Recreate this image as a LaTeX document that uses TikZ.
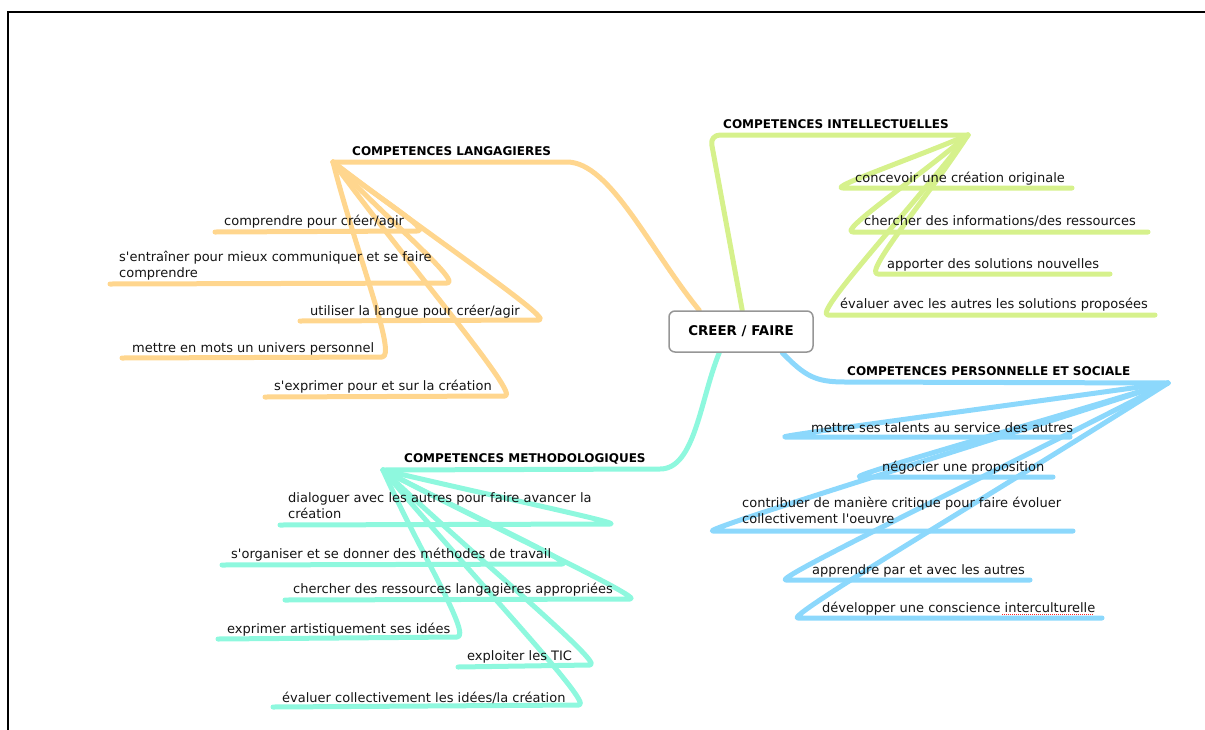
\documentclass[tikz,border=0pt]{standalone}
\usepackage{fontspec}
\setmainfont{DejaVu Sans}
\usetikzlibrary{calc,backgrounds}
\definecolor{orangeC}{RGB}{255,214,142}
\definecolor{greenC}{RGB}{214,241,140}
\definecolor{blueC}{RGB}{140,216,252}
\definecolor{tealC}{RGB}{142,248,222}
\definecolor{txt}{RGB}{20,20,20}
\definecolor{boxC}{RGB}{150,150,150}
\newcommand{\q}{\textquotesingle}
\tikzset{
  branch/.style={line width=5pt, line cap=round, line join=round},
  ob/.style={branch, draw=orangeC},
  gb/.style={branch, draw=greenC},
  bb/.style={branch, draw=blueC},
  tb/.style={branch, draw=tealC},
  leaf/.style={anchor=base west, inner sep=0pt, text=txt, font=\fontsize{13}{16}\selectfont},
  topic/.style={anchor=base west, inner sep=0pt, text=black, font=\bfseries\fontsize{12}{14}\selectfont},
  rootbox/.style={draw=boxC, line width=1.5pt, rounded corners=6pt, fill=white,
    minimum width=144pt, minimum height=41pt, inner sep=0pt, text=black,
    font=\bfseries\fontsize{13.4}{16}\selectfont}
}
% right hook: from apex #1 to right end #2, then along underline to #3
\newcommand{\hookR}[4]{\draw[#1] (#2) .. controls ($(#2)!0.45!(#3)$) and ($(#3)+(16,0)$) .. (#3) -- (#4);}
\newcommand{\hookL}[4]{\draw[#1] (#2) .. controls ($(#2)!0.45!(#3)$) and ($(#3)+(-16,0)$) .. (#3) -- (#4);}
\begin{document}
\begin{tikzpicture}[x=1pt,y=-1pt]
\useasboundingbox (0,0) rectangle (1205,729);
\draw[line width=2pt, line join=miter] (1206,12) -- (8,12) -- (8,730);

% root
\node[rootbox] (c) at (741,331.5) {CREER / FAIRE};

% ---------- coordinates ----------
% orange
\coordinate (oP) at (333,162);
\coordinate (oE) at (567,162);
\coordinate (o1R) at (417,231); \coordinate (o1L) at (215,232);
\coordinate (o2R) at (447,283); \coordinate (o2L) at (110,284);
\coordinate (o3R) at (539,320); \coordinate (o3L) at (300,321);
\coordinate (o4R) at (382,357); \coordinate (o4L) at (122,358);
\coordinate (o5R) at (505,396); \coordinate (o5L) at (265,397);
% green
\coordinate (gC) at (710,135);
\coordinate (gP) at (968,135);
\coordinate (g1L) at (843,188); \coordinate (g1R) at (1072,188);
\coordinate (g2L) at (853,232); \coordinate (g2R) at (1148,232);
\coordinate (g3L) at (878,274); \coordinate (g3R) at (1110,274);
\coordinate (g4L) at (828,315); \coordinate (g4R) at (1155,315);
% blue
\coordinate (bS) at (845,382);
\coordinate (bP) at (1168,383);
\coordinate (b1L) at (785,437); \coordinate (b1R) at (1070,437);
\coordinate (b2L) at (860,477); \coordinate (b2R) at (1053,477);
\coordinate (b3L) at (713,531); \coordinate (b3R) at (1073,531);
\coordinate (b4L) at (786,580); \coordinate (b4R) at (1030,580);
\coordinate (b5L) at (798,618); \coordinate (b5R) at (1102,618);
% teal
\coordinate (tS) at (660,469);
\coordinate (tP) at (383,470);
\coordinate (t1R) at (610,524); \coordinate (t1L) at (280,525);
\coordinate (t2R) at (562,564); \coordinate (t2L) at (222,565);
\coordinate (t3R) at (630,599); \coordinate (t3L) at (285,600);
\coordinate (t4R) at (457,637); \coordinate (t4L) at (218,639);
\coordinate (t5R) at (590,665); \coordinate (t5L) at (458,667);
\coordinate (t6R) at (579,705); \coordinate (t6L) at (273,707);

\begin{pgfonlayer}{background}
% orange branch
\draw[ob] (oP) -- (oE) .. controls (610,162) and (650,250) .. ($(c.north west)+(31,0)$);
\hookR{ob}{oP}{o1R}{o1L}
\hookR{ob}{oP}{o2R}{o2L}
\hookR{ob}{oP}{o3R}{o3L}
\hookR{ob}{oP}{o4R}{o4L}
\hookR{ob}{oP}{o5R}{o5L}
% green branch
\draw[gb, rounded corners=10pt] ($(c.north west)+(74,0)$) -- (gC) -- (gP);
\hookL{gb}{gP}{g1L}{g1R}
\hookL{gb}{gP}{g2L}{g2R}
\hookL{gb}{gP}{g3L}{g3R}
\hookL{gb}{gP}{g4L}{g4R}
% blue branch
\draw[bb] ($(c.south west)+(114,0)$) .. controls (805,376) and (815,382) .. (bS) -- (bP);
\hookL{bb}{bP}{b1L}{b1R}
\hookL{bb}{bP}{b2L}{b2R}
\hookL{bb}{bP}{b3L}{b3R}
\hookL{bb}{bP}{b4L}{b4R}
\hookL{bb}{bP}{b5L}{b5R}
% teal branch
\draw[tb] ($(c.south west)+(51,0)$) .. controls (700,400) and (695,469) .. (tS) -- (tP);
\hookR{tb}{tP}{t1R}{t1L}
\hookR{tb}{tP}{t2R}{t2L}
\hookR{tb}{tP}{t3R}{t3L}
\hookR{tb}{tP}{t4R}{t4L}
\hookR{tb}{tP}{t5R}{t5L}
\hookR{tb}{tP}{t6R}{t6L}
\end{pgfonlayer}

% ---------- texts ----------
\node[topic] (oT) at (352,155) {COMPETENCES LANGAGIERES};
\node[leaf] (o1) at (224,225) {comprendre pour créer/agir};
\node[leaf] (o2) at (119,261) {\begin{tabular}[t]{@{}l@{}}s\q entraîner pour mieux communiquer et se faire\\comprendre\end{tabular}};
\node[leaf] (o3) at (310,315) {utiliser la langue pour créer/agir};
\node[leaf] (o4) at (132,352) {mettre en mots un univers personnel};
\node[leaf] (o5) at (274,390) {s\q exprimer pour et sur la création};

\node[topic] (gT) at (723,128) {COMPETENCES INTELLECTUELLES};
\node[leaf] (g1) at (855,182) {concevoir une création originale};
\node[leaf] (g2) at (864,225) {chercher des informations/des ressources};
\node[leaf] (g3) at (887,268) {apporter des solutions nouvelles};
\node[leaf] (g4) at (840,308) {évaluer avec les autres les solutions proposées};

\node[topic] (bT) at (847,375) {COMPETENCES PERSONNELLE ET SOCIALE};
\node[leaf] (b1) at (811,432) {mettre ses talents au service des autres};
\node[leaf] (b2) at (882,471) {négocier une proposition};
\node[leaf] (b3) at (742,507) {\begin{tabular}[t]{@{}l@{}}contribuer de manière critique pour faire évoluer\\collectivement l\q oeuvre\end{tabular}};
\node[leaf] (b4) at (812,574) {apprendre par et avec les autres};
\node[leaf] (b5) at (822,612) {développer une conscience interculturelle};
\draw[red!85, line width=1pt, dash pattern=on 1pt off 1pt] (1002,614.5) -- (1093,614.5);

\node[topic] (tT) at (404,462) {COMPETENCES METHODOLOGIQUES};
\node[leaf] (t1) at (288,502) {\begin{tabular}[t]{@{}l@{}}dialoguer avec les autres pour faire avancer la\\création\end{tabular}};
\node[leaf] (t2) at (231,558) {s\q organiser et se donner des méthodes de travail};
\node[leaf] (t3) at (293,593) {chercher des ressources langagières appropriées};
\node[leaf] (t4) at (227,633) {exprimer artistiquement ses idées};
\node[leaf] (t5) at (467,660) {exploiter les TIC};
\node[leaf] (t6) at (282,702) {évaluer collectivement les idées/la création};
\end{tikzpicture}
\end{document}
